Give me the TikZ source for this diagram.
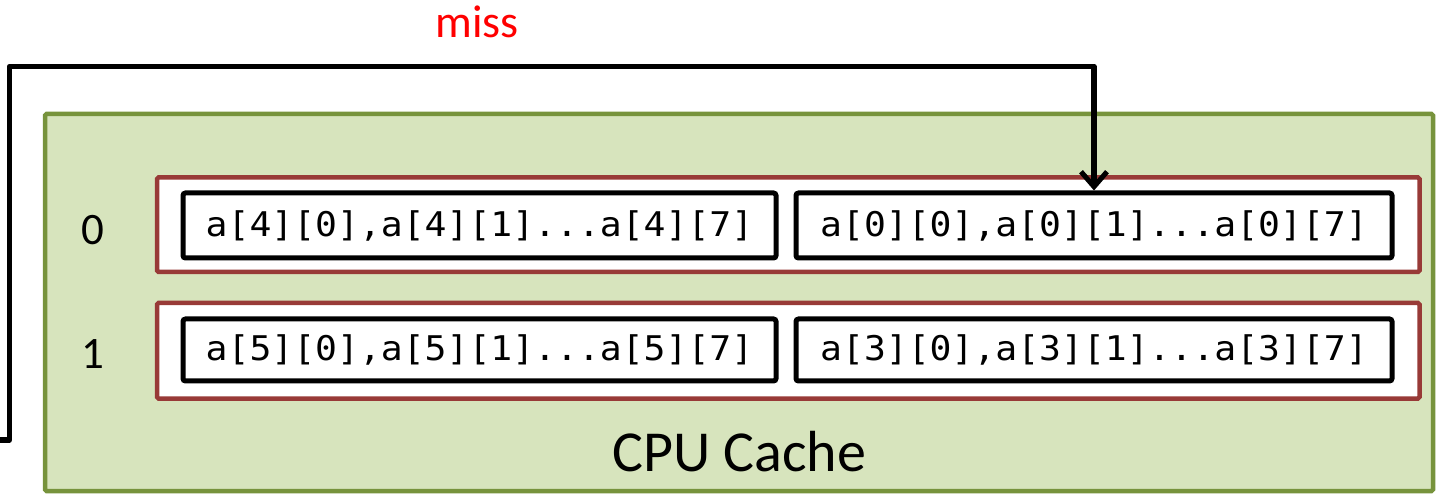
\documentclass[tikz,border=0pt]{standalone}
\usepackage{fontspec}
\setmainfont{Carlito}
\newfontfamily\codefont[FakeStretch=1.07]{DejaVu Sans Mono}
\usetikzlibrary{arrows.meta}
\definecolor{cachefill}{HTML}{D7E4BD}
\definecolor{cacheedge}{HTML}{77933C}
\definecolor{setedge}{HTML}{983A37}
\definecolor{missred}{HTML}{FF0000}
\tikzset{
  cachebox/.style={draw=cacheedge, fill=cachefill, line width=4.5pt, rounded corners=1.5pt},
  setbox/.style={draw=setedge, fill=white, line width=4.5pt, rounded corners=1.5pt},
  linebox/.style={draw=black, fill=white, line width=5pt, rounded corners=2.5pt},
  linetext/.style={font=\codefont\fontsize{34}{38}\selectfont, inner sep=0pt},
  idxtext/.style={font=\fontsize{45}{50}\selectfont, inner sep=0pt},
  flow/.style={draw=black, line width=5.5pt, line join=round},
}
\begin{document}
\begin{tikzpicture}[x=1pt, y=-1pt]
\useasboundingbox (0,0) rectangle (1441,494);

% cache body
\draw[cachebox] (45,114) rectangle (1433,491);
\node[font=\fontsize{58}{64}\selectfont, inner sep=0pt] (title) at (739,452) {CPU Cache};

% two sets, each holding two lines
\draw[setbox] (157,177.5) rectangle (1419.5,272);
\draw[setbox] (157,303) rectangle (1419.5,398.5);

\node[linebox, minimum width=593pt, minimum height=65pt, inner sep=0pt] (l00) at (479.5,225.5) {};
\node[linebox, minimum width=596pt, minimum height=65pt, inner sep=0pt] (l01) at (1094,225.5) {};
\node[linebox, minimum width=593pt, minimum height=62pt, inner sep=0pt] (l10) at (479.5,350) {};
\node[linebox, minimum width=596pt, minimum height=62pt, inner sep=0pt] (l11) at (1094,350) {};

\node[linetext] at (l00) {a[4][0],a[4][1]...a[4][7]};
\node[linetext] at (l01) {a[0][0],a[0][1]...a[0][7]};
\node[linetext] at (l10) {a[5][0],a[5][1]...a[5][7]};
\node[linetext] at (l11) {a[3][0],a[3][1]...a[3][7]};

\node[idxtext] (s0) at (92.5,230) {0};
\node[idxtext] (s1) at (92.5,354) {1};

% miss path into set 0
\coordinate (src) at (0,440);
\coordinate (c1) at (9.5,440);
\coordinate (c2) at (9.5,66.5);
\coordinate (c3) at (1094,66.5);
\draw[flow, -{Straight Barb[length=15pt, width=26pt, line width=5pt]}]
  (src) -- (c1) -- (c2) -- (c3) -- (c3 |- l01.north);
\node[font=\fontsize{46}{52}\selectfont, text=missred, inner sep=0pt] (miss) at (477,22) {miss};
\end{tikzpicture}
\end{document}
